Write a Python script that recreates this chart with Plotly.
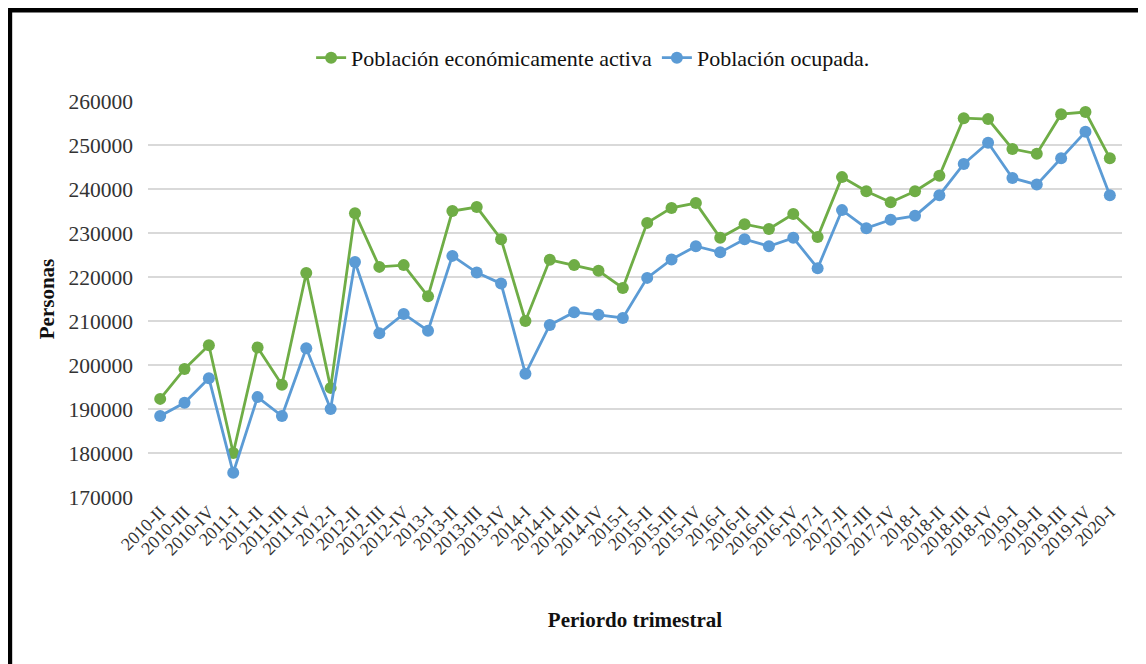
import plotly.graph_objects as go

# Periodos trimestrales (2010-II a 2020-I)
periodos = [
    "2010-II", "2010-III", "2010-IV",
    "2011-I", "2011-II", "2011-III", "2011-IV",
    "2012-I", "2012-II", "2012-III", "2012-IV",
    "2013-I", "2013-II", "2013-III", "2013-IV",
    "2014-I", "2014-II", "2014-III", "2014-IV",
    "2015-I", "2015-II", "2015-III", "2015-IV",
    "2016-I", "2016-II", "2016-III", "2016-IV",
    "2017-I", "2017-II", "2017-III", "2017-IV",
    "2018-I", "2018-II", "2018-III", "2018-IV",
    "2019-I", "2019-II", "2019-III", "2019-IV",
    "2020-I",
]

# Población económicamente activa (personas)
pea = [
    192300, 199100, 204500,
    180000, 204000, 195500, 220900,
    194800, 234500, 222300, 222700,
    215600, 235000, 235900, 228600,
    210000, 223900, 222700, 221400,
    217500, 232300, 235700, 236800,
    228900, 232000, 230900, 234300,
    229100, 242700, 239500, 237000,
    239500, 243000, 256100, 255900,
    249100, 248000, 257000, 257500,
    247000,
]

# Población ocupada (personas)
ocupada = [
    188400, 191400, 197000,
    175500, 192700, 188400, 203800,
    190000, 223400, 207200, 211600,
    207800, 224800, 221000, 218500,
    198000, 209100, 212000, 211400,
    210700, 219800, 224000, 227000,
    225600, 228600, 227000, 228900,
    222000, 235200, 231100, 233000,
    233900, 238600, 245700, 250500,
    242500, 241000, 247000, 253000,
    238600,
]

serif = "Liberation Serif, Times New Roman, serif"

fig = go.Figure()

fig.add_trace(go.Scatter(
    x=periodos, y=pea,
    name="Población económicamente activa",
    mode="lines+markers",
    line=dict(color="#6FAD46", width=2.8),
    marker=dict(color="#6FAD46", size=12),
))

fig.add_trace(go.Scatter(
    x=periodos, y=ocupada,
    name="Población ocupada.",
    mode="lines+markers",
    line=dict(color="#5B9BD5", width=2.8),
    marker=dict(color="#5B9BD5", size=12),
))

# la página tiene 8 px de margen, así que los márgenes se compensan
fig.update_layout(
    width=1146, height=664,
    margin=dict(l=140, r=32, t=93, b=175, autoexpand=False),
    paper_bgcolor="white",
    plot_bgcolor="white",
    font=dict(family=serif, color="#222222"),
    showlegend=True,
    legend=dict(
        orientation="h",
        x=0.457, xanchor="center",
        y=1.109, yanchor="middle",
        font=dict(family=serif, size=22, color="#111111"),
        itemwidth=30,
    ),
    xaxis=dict(
        title=dict(text="<b>Periordo trimestral</b>",
                   font=dict(family=serif, size=21, color="#111111"),
                   standoff=53),
        tickangle=-45,
        tickfont=dict(family=serif, size=18, color="#333333"),
        showgrid=False,
        showline=False,
        ticks="",
        automargin=False,
        range=[-0.5, len(periodos) - 0.5],
    ),
    yaxis=dict(
        title=dict(text="<b>Personas</b>",
                   font=dict(family=serif, size=21, color="#111111"),
                   standoff=8),
        range=[170000, 260000],
        dtick=10000,
        tickformat="d",
        tickfont=dict(family=serif, size=21.5, color="#333333"),
        showgrid=True,
        gridcolor="#D9D9D9",
        gridwidth=1.5,
        zeroline=False,
        showline=False,
        ticks="",
        automargin=False,
        ticklabelstandoff=14,
    ),
    shapes=[
        # marco negro (arriba e izquierda)
        dict(type="line", xref="paper", yref="paper",
             x0=-0.1437, x1=1.1, y0=1.2298, y1=1.2298,
             line=dict(color="black", width=5)),
        dict(type="line", xref="paper", yref="paper",
             x0=-0.1420, x1=-0.1420, y0=1.2298, y1=-0.5,
             line=dict(color="black", width=5)),
    ],
)

fig.write_html("out.html")
